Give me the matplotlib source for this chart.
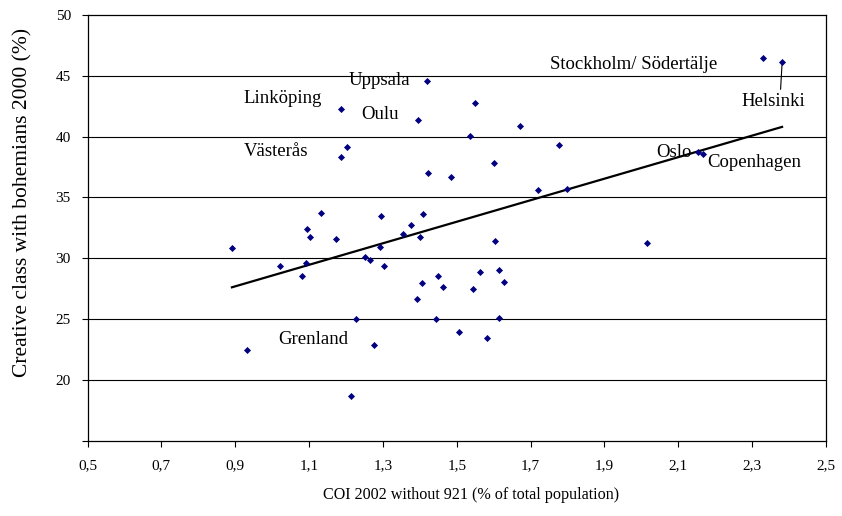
import matplotlib
matplotlib.use('Agg')
import matplotlib.pyplot as plt
import numpy as np

# data
coi = [0.891, 0.932, 1.021, 1.081, 1.091, 1.094, 1.103, 1.133, 1.174, 1.227,
       1.213, 1.251, 1.266, 1.275, 1.296, 1.292, 1.304, 1.355, 1.375, 1.409,
       1.400, 1.603, 2.016, 1.448, 1.405, 1.463, 1.392, 1.563, 1.615, 1.628,
       1.544, 1.444, 1.613, 1.506, 1.581, 1.186, 1.202, 1.186, 1.419, 1.548,
       1.395, 1.672, 1.537, 1.778, 1.600, 1.421, 1.483, 1.720, 1.798, 2.329,
       2.381, 2.154, 2.168]
creative = [30.82, 22.43, 29.39, 28.54, 29.59, 32.38, 31.73, 33.73, 31.59, 25.03,
            18.65, 30.13, 29.86, 22.85, 33.48, 30.90, 29.37, 32.00, 32.76, 33.67,
            31.73, 31.42, 31.23, 28.54, 27.94, 27.67, 26.68, 28.90, 29.01, 28.03,
            27.48, 25.03, 25.07, 23.94, 23.47, 42.30, 39.15, 38.36, 44.61, 42.75,
            41.35, 40.88, 40.03, 39.34, 37.86, 37.04, 36.71, 35.64, 35.72, 46.50,
            46.14, 38.74, 38.53]

x_ticks = [0.5, 0.7, 0.9, 1.1, 1.3, 1.5, 1.7, 1.9, 2.1, 2.3, 2.5]
y_ticks = [15, 20, 25, 30, 35, 40, 45, 50]

plt.rcParams['font.family'] = ['Liberation Serif', 'DejaVu Serif']

fig = plt.figure(figsize=(8.42, 5.16), dpi=100)
ax = fig.add_axes([0.104, 0.146, 0.877, 0.825])

# horizontal grid lines
for yv in y_ticks[1:-1]:
    ax.axhline(yv, color='black', lw=0.8, zorder=1)

ax.scatter(coi, creative, marker='D', s=13, color='#000080', zorder=3, linewidths=0)

# linear trend line
x = np.array(coi)
k, m = np.polyfit(x, np.array(creative), 1)
xs = np.array([x.min(), x.max()])
ax.plot(xs, k * xs + m, color='black', lw=1.6, zorder=2)

# city labels
fs = 13.5
ax.text(1.207, 44.6, 'Uppsala', fontsize=fs, va='center', ha='left')
ax.text(0.922, 43.1, 'Linköping', fontsize=fs, va='center', ha='left')
ax.text(1.242, 41.8, 'Oulu', fontsize=fs, va='center', ha='left')
ax.text(0.922, 38.8, 'Västerås', fontsize=fs, va='center', ha='left')
ax.text(1.752, 45.9, 'Stockholm/ Södertälje', fontsize=fs, va='center', ha='left')
ax.text(2.271, 42.9, 'Helsinki', fontsize=fs, va='center', ha='left')
ax.text(2.040, 38.7, 'Oslo', fontsize=fs, va='center', ha='left')
ax.text(2.178, 37.9, 'Copenhagen', fontsize=fs, va='center', ha='left')
ax.text(1.017, 23.3, 'Grenland', fontsize=fs, va='center', ha='left')
# leader line to Helsinki
ax.plot([2.381, 2.377], [46.0, 43.9], color='black', lw=0.8, zorder=2)

ax.set_xlim(0.5, 2.5)
ax.set_ylim(15, 50)
ax.set_xticks(x_ticks)
ax.set_xticklabels([f'{v:.1f}'.replace('.', ',') for v in x_ticks])
ax.set_yticks(y_ticks)
ax.set_yticklabels([''] + [str(v) for v in y_ticks[1:]])
ax.tick_params(direction='out', length=4, width=0.8, labelsize=11, colors='black')
ax.tick_params(axis='x', pad=9)
ax.tick_params(axis='y', pad=8)

for sp in ax.spines.values():
    sp.set_color('black')
    sp.set_linewidth(0.9)

ax.set_xlabel('COI 2002 without 921 (% of total population)', fontsize=11.6)
ax.set_ylabel('Creative class with bohemians 2000 (%)', fontsize=15.5)
ax.xaxis.set_label_coords(0.519, -0.109)
ax.yaxis.set_label_coords(-0.075, 0.559)

fig.savefig('out.png', dpi=100)
